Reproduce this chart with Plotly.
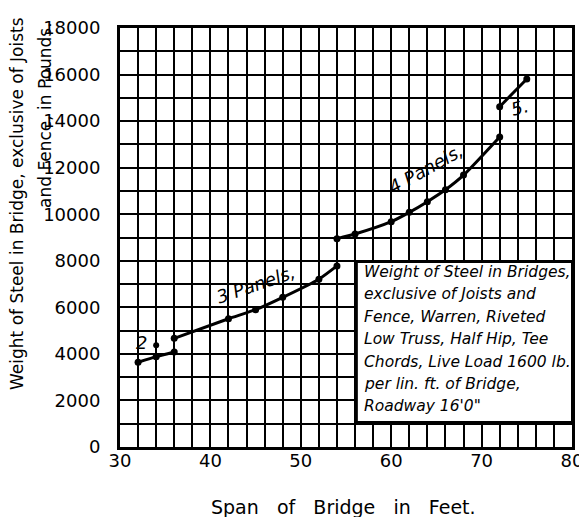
import plotly.graph_objects as go

# Span of bridge (ft) and weight of steel (lb) for each panel group
span_2 = [32, 34, 36]
weight_2 = [3640, 3880, 4080]
span_2_extra = [34]
weight_2_extra = [4370]

span_3 = [36, 42, 45, 48, 52, 54]
weight_3 = [4670, 5510, 5900, 6430, 7210, 7780]

span_4 = [54, 56, 60, 62, 64, 66, 68, 72]
weight_4 = [8950, 9150, 9680, 10080, 10540, 11050, 11680, 13320]

span_5 = [72, 75]
weight_5 = [14620, 15810]

x_ticks = [30, 40, 50, 60, 70, 80]
y_ticks = [0, 2000, 4000, 6000, 8000, 10000, 12000, 14000, 16000, 18000]

box_lines = ["Weight of Steel in Bridges,", "exclusive of Joists and",
             "Fence, Warren, Riveted", "Low Truss, Half Hip, Tee",
             "Chords, Live Load 1600 lb.", "per lin. ft. of Bridge,",
             "Roadway 16'0\""]

# page body has an 8px default margin: shrink the figure to compensate
OFF = 8
W, H = 587 - OFF, 517 - OFF
ML, MR, MT, MB = 120 - OFF, 15, 28 - OFF, 70
PW, PH = W - ML - MR, H - MT - MB


def px_to_paper(px, py):
    # px, py are page pixels
    fx, fy = px - OFF, py - OFF
    return (fx - ML) / PW, (H - MB - fy) / PH


INK = "black"
fig = go.Figure()
for xs, ys in [(span_2, weight_2), (span_3, weight_3), (span_4, weight_4), (span_5, weight_5)]:
    fig.add_trace(go.Scatter(x=xs, y=ys, mode="lines+markers",
                             line=dict(color=INK, width=3, shape="spline", smoothing=0.6),
                             marker=dict(color=INK, size=7), showlegend=False))
fig.add_trace(go.Scatter(x=span_2_extra, y=weight_2_extra, mode="markers",
                         marker=dict(color=INK, size=6), showlegend=False))

tickfont = dict(family="DejaVu Sans", size=18, color=INK)
fig.update_xaxes(range=[30, 80], tickvals=x_ticks, ticktext=[str(v) for v in x_ticks],
                 showgrid=True, gridcolor=INK, gridwidth=2,
                 minor=dict(dtick=2, tick0=30, showgrid=True, gridcolor=INK, gridwidth=2),
                 showline=True, linecolor=INK, linewidth=3, mirror=True, automargin=False,
                 ticks="", ticklabelstandoff=-5, tickfont=tickfont, zeroline=False)
fig.update_yaxes(range=[0, 18000], tickvals=y_ticks, ticktext=[str(v) for v in y_ticks],
                 showgrid=True, gridcolor=INK, gridwidth=2,
                 minor=dict(dtick=1000, tick0=0, showgrid=True, gridcolor=INK, gridwidth=2),
                 showline=True, linecolor=INK, linewidth=3, mirror=True, automargin=False,
                 ticks="", ticklabelstandoff=13, tickfont=tickfont, zeroline=False)

# white legend box
fig.add_shape(type="rect", x0=56.2, x1=80, y0=1070, y1=7950, xref="x", yref="y",
              fillcolor="white", line=dict(color=INK, width=2), layer="above")

box_font = dict(family="DejaVu Sans", size=15.5, color=INK)
line_px_y = [272, 294, 317, 339, 362, 384, 406]
for txt, py in zip(box_lines, line_px_y):
    ax, ay = px_to_paper(362, py)
    fig.add_annotation(x=ax, y=ay, xref="paper", yref="paper", xanchor="left", yanchor="middle",
                       text="<i>" + txt + "</i>", showarrow=False, font=box_font)

labfont = dict(family="DejaVu Sans", size=18, color=INK)
fig.add_annotation(x=32.4, y=4470, text="<i>2</i>", showarrow=False, font=labfont)
fig.add_annotation(x=45.0, y=6980, text="<i>3 Panels,</i>", showarrow=False, font=labfont, textangle=-19)
fig.add_annotation(x=63.9, y=11950, text="<i>4 Panels,</i>", showarrow=False, font=labfont, textangle=-29)
fig.add_annotation(x=74.2, y=14600, text="<i>5.</i>", showarrow=False, font=labfont, textangle=-15)

# axis titles
tx, ty = px_to_paper(343, 507)
fig.add_annotation(x=tx, y=ty, xref="paper", yref="paper", xanchor="center", yanchor="middle",
                   text="Span   of   Bridge   in   Feet.", showarrow=False,
                   font=dict(family="DejaVu Sans", size=19, color=INK))
t1x, t1y = px_to_paper(17, 204)
fig.add_annotation(x=t1x, y=t1y, xref="paper", yref="paper", xanchor="center", yanchor="middle",
                   text="Weight of Steel in Bridge, exclusive of Joists", showarrow=False,
                   textangle=-90, font=dict(family="DejaVu Sans", size=17, color=INK))
t2x, t2y = px_to_paper(45, 115)
fig.add_annotation(x=t2x, y=t2y, xref="paper", yref="paper", xanchor="center", yanchor="middle",
                   text="and Fence, in Pounds.", showarrow=False,
                   textangle=-90, font=dict(family="DejaVu Sans", size=17, color=INK))

fig.update_layout(width=W, height=H, margin=dict(l=ML, r=MR, t=MT, b=MB, autoexpand=False),
                  paper_bgcolor="white", plot_bgcolor="white", showlegend=False)

fig.write_html("out.html")
